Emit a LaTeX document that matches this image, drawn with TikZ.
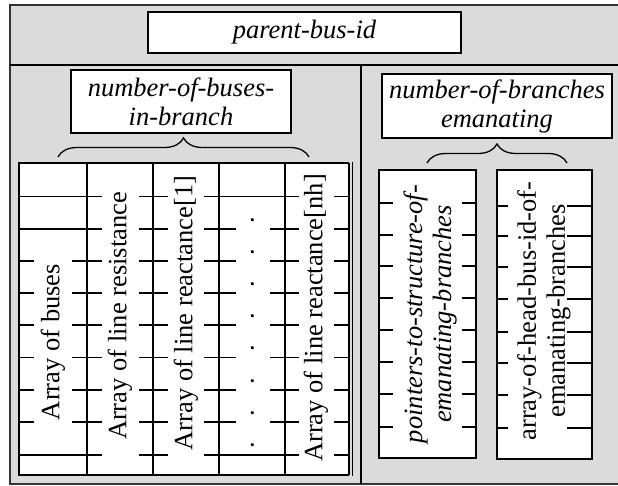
\documentclass[tikz,border=0pt]{standalone}
\usepackage{fontspec}
\setmainfont{Liberation Serif}
\usepackage{tikz}
\usetikzlibrary{decorations.pathreplacing}
\definecolor{panel}{gray}{0.86}
\tikzstyle{labelbox}=[rectangle, draw, fill=white, line width=1.3pt, inner sep=0pt, align=center, font=\fontsize{26.5}{29}\selectfont\itshape]
\tikzstyle{coltext}=[rotate=90, fill=white, inner sep=0pt, font=\fontsize{26.5}{29}\selectfont]
\tikzstyle{boxtext}=[rotate=90, inner sep=0pt, align=center, font=\fontsize{26.5}{29}\selectfont]
\tikzstyle{gridline}=[line width=1.3pt]
\tikzstyle{bracket}=[decorate, decoration={brace, amplitude=19pt}, line width=1.3pt]

\begin{document}
\begin{tikzpicture}[x=1pt, y=-1pt]
		   \useasboundingbox (0,0) rectangle (618,486);
		   % panels
		   \fill[panel] (10,5) rectangle (618,484);
		   \draw[line width=1.2pt, black!80] (618,5) -- (10,5) -- (10,484) -- (618,484);
		   \draw[gridline] (10,65) -- (618,65);
		   \draw[gridline] (361,65) -- (361,484);

		   % table of the bus arrays
		   \fill[white] (19,163) rectangle (349,475);
		   \foreach \x in {87,153,219,285}
			   \draw[gridline] (\x,163) -- (\x,475);
		   \foreach \y in {196.5,229,261,293,325,357.5,390,422,455}
			   \draw[gridline] (19,\y) -- (349,\y);

		   % branch arrays
		   \draw[line width=1.3pt, fill=white] (379,170) rectangle (476,458);
		   \draw[line width=1.6pt, fill=white] (497,170) rectangle (592,459);
		   \draw[line width=2.6pt] (592,169) -- (592,460);

		   \begin{scope}
			   \node (0) at (304.5,32.5) [labelbox, minimum width=313pt, minimum height=41pt] {parent-bus-id};
			   \node (1) at (181,101.5) [labelbox, minimum width=220pt, minimum height=63pt] {number-of-buses-\\in-branch};
			   \node (2) at (497,106) [labelbox, minimum width=230pt, minimum height=64pt] {number-of-branches\\emanating};

			   \node (a1) at (53,342) [coltext, minimum width=200pt, minimum height=38pt] {Array of buses};
			   \node (a2) at (120,316) [coltext, minimum width=290pt, minimum height=37pt] {Array of line resistance};
			   \node (a3) at (186,313) [coltext, minimum width=290pt, minimum height=36pt] {Array of line reactance[1]};
			   \node (a4) at (252.5,332.5) [coltext, minimum width=240pt, minimum height=34pt] {\hbox to 232pt{.\hfill.\hfill.\hfill.\hfill.\hfill.\hfill.\hfill.}};
			   \node (a5) at (316,318) [coltext, minimum width=290pt, minimum height=35pt] {Array of line reactance[nh]};

			   \node (b1) at (430,314) [boxtext, font=\fontsize{26.5}{29}\selectfont\itshape] {pointers-to-structure-of-\\emanating-branches};
			   \node (b2) at (544,311) [boxtext] {array-of-head-bus-id-of-\\emanating-branches};

			   \coordinate (l1) at (58,157);
			   \coordinate (l2) at (309,157);
			   \coordinate (r1) at (427,163);
			   \coordinate (r2) at (567,163);
		   \end{scope}
		   \begin{scope}
			   \draw[line width=2.6pt] (349,163) -- (19,163) -- (19,475) -- (349,475);
			   \draw[gridline] (349,163) -- (349,475);
			   \draw[gridline] (352.5,162) -- (352.5,476);

			   \foreach \y in {203,235,266,298,330,362,394,427} {
				   \draw[gridline] (379,\y) -- (393,\y);
				   \draw[gridline] (462,\y) -- (476,\y);
			   }
			   \foreach \y in {206,236,267,299,332,363,395,428} {
				   \draw[gridline] (497,\y) -- (508,\y);
				   \draw[gridline] (567,\y) -- (592,\y);
			   }

			   \draw[bracket] (l1) -- (l2);
			   \draw[bracket] (r1) -- (r2);
		   \end{scope}
	   \end{tikzpicture}
\end{document}
